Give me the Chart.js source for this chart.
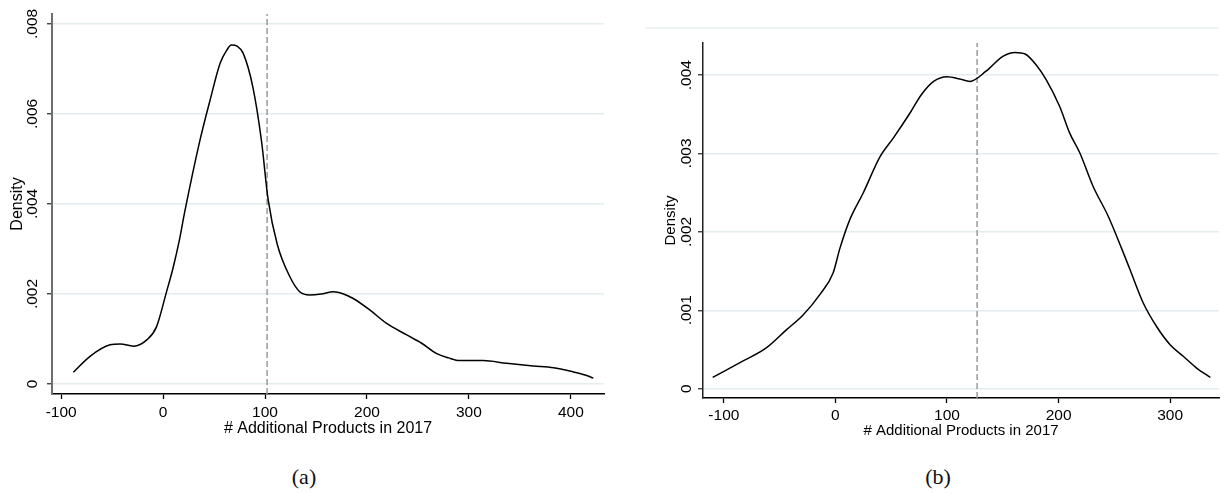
<!DOCTYPE html>
<html>
<head>
<meta charset="utf-8">
<title>Kernel density of additional products</title>
<script src="https://cdn.jsdelivr.net/npm/chart.js@4.4.1/dist/chart.umd.min.js"></script>
<style>
  html, body { margin: 0; padding: 0; background: #fff; }
  body { width: 1225px; height: 494px; position: relative; overflow: hidden; }
  canvas { position: absolute; top: 0; }
  #chartA { left: 0; }
  #chartB { left: 640px; }
  .cap { position: absolute; top: 464px; font-family: 'Liberation Serif', 'DejaVu Serif', serif; font-size: 22px; color: #111; transform: translateX(-50%); }
</style>
</head>
<body>
<canvas id="chartA" width="612" height="440"></canvas>
<canvas id="chartB" width="585" height="440"></canvas>
<div class="cap" style="left:304px">(a)</div>
<div class="cap" style="left:938px">(b)</div>
<script>
// Panel (a): kernel density estimate
const xA = [-88, -72, -52, -42, -29, -16, -6.5, 3, 10, 16, 21, 36, 46, 56, 62, 67, 73, 78.5, 88, 96.5, 103, 112, 124, 134, 144, 155, 167, 177, 186.5, 203, 219, 239, 254, 268, 280, 291, 314, 337, 363, 383, 402, 414, 422];
const yA = [0.00026, 0.00061, 0.00087, 0.00089, 0.00084, 0.00098, 0.00127, 0.00202, 0.0026, 0.0032, 0.0038, 0.0054, 0.0063, 0.00713, 0.0074, 0.00753, 0.0075, 0.00735, 0.0066, 0.0054, 0.0041, 0.0031, 0.0024, 0.00205, 0.00198, 0.002, 0.00205, 0.002, 0.0019, 0.00164, 0.00135, 0.00109, 0.0009, 0.00068, 0.00058, 0.00052, 0.00052, 0.00046, 0.0004, 0.00036, 0.00027, 0.0002, 0.00013];
const meanA = 102;
const xTicksA = [-100, 0, 100, 200, 300, 400];
const yTicksA = [0, 0.002, 0.004, 0.006, 0.008];
const yTickLabelsA = ['0', '.002', '.004', '.006', '.008'];

// Panel (b): kernel density estimate
const xB = [-110, -86, -62, -44, -29, -14, -2, 4, 13, 25, 40, 52, 67, 77, 88, 100, 111.5, 120.5, 135, 150, 161, 170, 180, 189, 201, 210, 219, 231, 244.5, 256.5, 264, 276, 288, 300, 312, 324, 336];
const yB = [0.000144, 0.00033, 0.00052, 0.00075, 0.00094, 0.0012, 0.00148, 0.00179, 0.00216, 0.0025, 0.00296, 0.0032, 0.00352, 0.00375, 0.00392, 0.00398, 0.00395, 0.00392, 0.00405, 0.00424, 0.00429, 0.00427, 0.00413, 0.00394, 0.0036, 0.00326, 0.00301, 0.00258, 0.0022, 0.00179, 0.00152, 0.00109, 0.00079, 0.00056, 0.00041, 0.00026, 0.000144];
const meanB = 127;
const xTicksB = [-100, 0, 100, 200, 300];
const yTicksB = [0, 0.001, 0.002, 0.003, 0.004];
const yTickLabelsB = ['0', '.001', '.002', '.003', '.004'];

const xTitle = '# Additional Products in 2017';
const yTitle = 'Density';

Chart.defaults.font.family = "'Liberation Sans', Arial, Helvetica, sans-serif";
Chart.defaults.color = '#000';

const GRID = '#e3ecef';

// Rotated y tick labels (read bottom-to-top) placed at each y tick
function rotatedYLabels(labels, xPos, fontSize) {
  return {
    id: 'rotatedYLabels',
    afterDraw(chart) {
      const s = chart.scales.y;
      const ctx = chart.ctx;
      ctx.save();
      ctx.font = fontSize + "px 'Liberation Sans', Arial, sans-serif";
      ctx.fillStyle = '#000';
      ctx.textAlign = 'center';
      ctx.textBaseline = 'middle';
      s.ticks.forEach((t, i) => {
        const py = s.getPixelForValue(t.value);
        ctx.save();
        ctx.translate(xPos, py);
        ctx.rotate(-Math.PI / 2);
        ctx.fillText(labels[i], 0, 0);
        ctx.restore();
      });
      ctx.restore();
    }
  };
}

// Faint frame line above the plot region
const topFrame = {
  id: 'topFrame',
  beforeDraw(chart) {
    const ctx = chart.ctx;
    ctx.save();
    ctx.strokeStyle = '#e8efef';
    ctx.lineWidth = 1.5;
    ctx.beginPath();
    ctx.moveTo(5, chart.chartArea.top - 15);
    ctx.lineTo(chart.chartArea.right, chart.chartArea.top - 15);
    ctx.stroke();
    ctx.restore();
  }
};

function makeChart(id, cfg) {
  const pts = cfg.x.map((v, i) => ({ x: v, y: cfg.y[i] }));
  return new Chart(document.getElementById(id), {
    type: 'scatter',
    data: {
      datasets: [
        {
          data: pts,
          showLine: true,
          borderColor: '#000',
          borderWidth: 1.5,
          pointRadius: 0,
          cubicInterpolationMode: 'monotone',
          fill: false
        },
        {
          data: [{ x: cfg.mean, y: cfg.yMin }, { x: cfg.mean, y: cfg.yMax }],
          showLine: true,
          borderColor: '#9a9a9a',
          borderWidth: 1.5,
          borderDash: [6, 3],
          pointRadius: 0,
          fill: false
        }
      ]
    },
    options: {
      responsive: false,
      animation: false,
      events: [],
      layout: { padding: cfg.padding },
      plugins: { legend: { display: false }, tooltip: { enabled: false } },
      scales: {
        x: {
          type: 'linear',
          min: cfg.xMin,
          max: cfg.xMax,
          afterBuildTicks: s => { s.ticks = cfg.xTicks.map(v => ({ value: v })); },
          afterFit: s => { s.height = cfg.xAxisHeight; },
          ticks: { font: { size: cfg.tickSize }, padding: cfg.xTickPad, maxRotation: 0, autoSkip: false, color: '#000' },
          grid: { display: true, drawOnChartArea: false, drawTicks: true, tickLength: 5, tickColor: '#000', tickWidth: 1.3 },
          border: { display: true, color: '#000', width: 1.5 },
          title: { display: true, text: xTitle, font: { size: cfg.titleSize }, padding: { top: 0, bottom: cfg.xTitlePad }, color: '#000' }
        },
        y: {
          type: 'linear',
          min: cfg.yMin,
          max: cfg.yMax,
          afterBuildTicks: s => { s.ticks = cfg.yTicks.map(v => ({ value: v })); },
          afterFit: s => { s.width = cfg.yAxisWidth; },
          ticks: { display: false },
          grid: { display: true, color: GRID, lineWidth: 1.5, drawTicks: true, tickLength: 5, tickColor: '#333', tickWidth: 1.3 },
          border: { display: true, color: cfg.yBorderColor, width: cfg.yBorderWidth },
          title: { display: true, text: yTitle, font: { size: cfg.titleSize }, padding: { top: cfg.yTitlePad, bottom: 0 }, color: '#000' }
        }
      }
    },
    plugins: cfg.plugins
  });
}

makeChart('chartA', {
  x: xA, y: yA, mean: meanA,
  xMin: -109, xMax: 432.5, yMin: -0.000222, yMax: 0.00822,
  xTicks: xTicksA, yTicks: yTicksA,
  padding: { top: 14, right: 8, left: 0, bottom: 0 },
  xAxisHeight: 46, yAxisWidth: 52,
  tickSize: 15.5, titleSize: 16, xTickPad: 4, xTitlePad: 2, yTitlePad: 8,
  yBorderColor: '#6e6e6e', yBorderWidth: 2,
  plugins: [rotatedYLabels(yTickLabelsA, 33, 15.5)]
});

makeChart('chartB', {
  x: xB, y: yB, mean: meanB,
  xMin: -118.7, xMax: 343.8, yMin: -0.000119, yMax: 0.00441,
  xTicks: xTicksB, yTicks: yTicksB,
  padding: { top: 43, right: 6, left: 0, bottom: 0 },
  xAxisHeight: 42, yAxisWidth: 63,
  tickSize: 15.5, titleSize: 15, xTickPad: 3, xTitlePad: 0, yTitlePad: 22,
  yBorderColor: '#222', yBorderWidth: 1.5,
  plugins: [rotatedYLabels(yTickLabelsB, 46.5, 15.5), topFrame]
});
</script>
</body>
</html>
